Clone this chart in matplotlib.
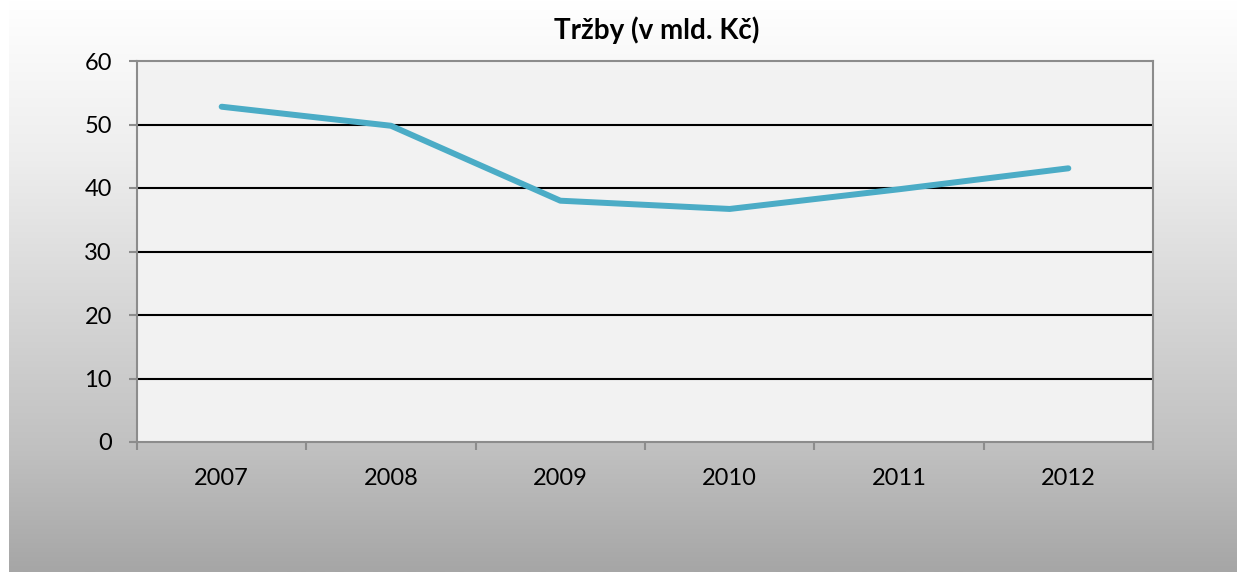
import numpy as np
import matplotlib
matplotlib.use("Agg")
import matplotlib.pyplot as plt
from matplotlib.colors import LinearSegmentedColormap

# ----------------------------------------------------
# DATA
# ----------------------------------------------------
years = ["2007", "2008", "2009", "2010", "2011", "2012"]
trzby = [52.8, 49.8, 38.0, 36.7, 39.8, 43.1]
y_ticks = [0, 10, 20, 30, 40, 50, 60]
title = "Tržby (v mld. Kč)"

plt.rcParams["font.family"] = ["Lato", "DejaVu Sans"]

W, H = 1237, 572
fig = plt.figure(figsize=(W / 100, H / 100), dpi=100)
fig.patch.set_facecolor("white")

# ----------------------------------------------------
# background gradient (chart area)
# ----------------------------------------------------
bg = fig.add_axes([9 / W, 0, 1 - 9 / W, 1])
grad_cmap = LinearSegmentedColormap.from_list(
    "bg",
    [(0.0, "#ffffff"), (0.28, "#ededed"), (0.79, "#c0c0c0"), (1.0, "#a6a6a6")],
)
grad = np.linspace(0, 1, 256).reshape(-1, 1)
bg.imshow(grad, aspect="auto", cmap=grad_cmap, extent=[0, 1, 1, 0])
bg.set_axis_off()

# ----------------------------------------------------
# plot area
# ----------------------------------------------------
left, right, top, bottom = 137, 1153, 61, 442
ax = fig.add_axes([left / W, (H - bottom) / H, (right - left) / W, (bottom - top) / H])
ax.set_facecolor("#f2f2f2")

x = np.arange(len(years)) + 0.5
ax.plot(x, trzby, color="#4bacc6", linewidth=4.3, solid_capstyle="round", zorder=3)

ax.set_xlim(0, len(years))
ax.set_ylim(0, 60)

ax.set_yticks(y_ticks)
ax.set_yticklabels([str(v) for v in y_ticks])
for v in y_ticks[1:-1]:
    ax.axhline(v, color="black", linewidth=1.5, zorder=2)

ax.set_xticks(np.arange(len(years) + 1))
ax.set_xticklabels([])
ax.set_xticks(x, minor=True)
ax.set_xticklabels(years, minor=True)

for s in ax.spines.values():
    s.set_color("#8c8c8c")
    s.set_linewidth(1.5)

ax.tick_params(axis="y", which="major", length=6, width=1.5, color="#8c8c8c",
               labelsize=17, pad=12, labelcolor="black")
ax.tick_params(axis="x", which="major", length=6, width=1.5, color="#8c8c8c")
ax.tick_params(axis="x", which="minor", length=0, labelsize=17, pad=19,
               labelcolor="black")

fig.text(657 / W, 1 - 30 / H, title, ha="center", va="center",
         fontsize=20, fontweight="bold", color="black")

fig.savefig("out.png", dpi=100)
plt.close()
